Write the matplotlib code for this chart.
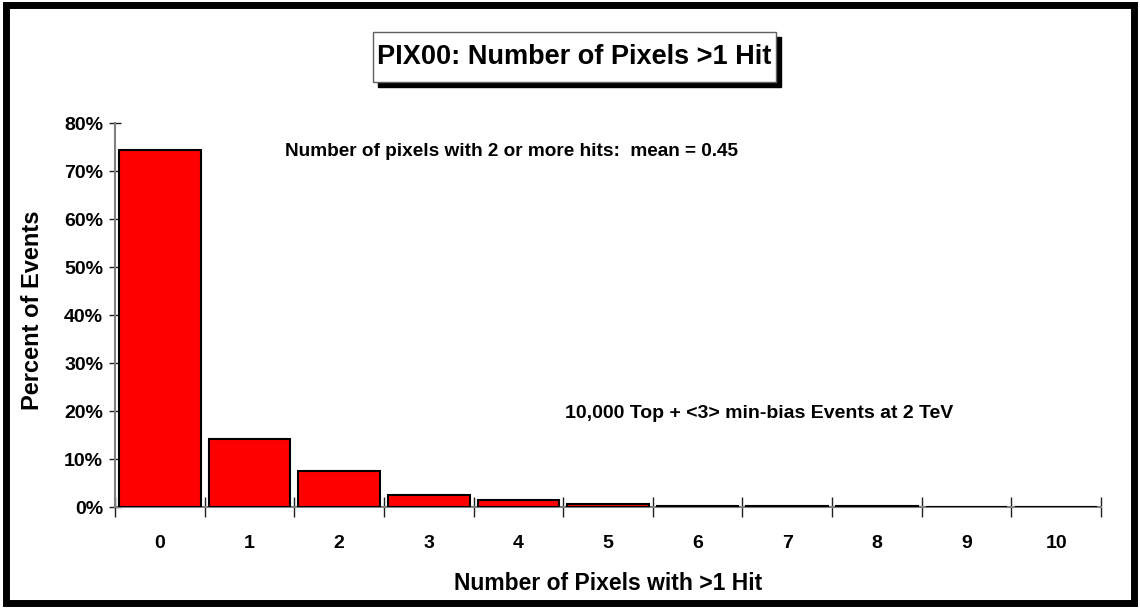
import matplotlib
matplotlib.use("Agg")
import matplotlib.pyplot as plt
from matplotlib.patches import Rectangle

categories = ["0", "1", "2", "3", "4", "5", "6", "7", "8", "9", "10"]
percent = [74.4, 14.1, 7.5, 2.4, 1.5, 0.7, 0.25, 0.2, 0.2, 0.0, 0.0]
yticks = [0, 10, 20, 30, 40, 50, 60, 70, 80]
ytick_labels = ["0%", "10%", "20%", "30%", "40%", "50%", "60%", "70%", "80%"]

plt.rcParams['font.family'] = ['Liberation Sans', 'DejaVu Sans']
plt.rcParams['font.weight'] = 'bold'

fig = plt.figure(figsize=(11.4, 6.08), dpi=100)
W, H = 1140, 608

# outer frame
fig.patches.append(Rectangle((6/W, 5/H), 1 - 12/W, 1 - 10/H, transform=fig.transFigure,
                             fill=False, edgecolor='black', linewidth=5, zorder=10))

ax = fig.add_axes([115/W, 1 - 507/H, (1101 - 115)/W, (507 - 123)/H])
xs = list(range(len(categories)))
ax.bar(xs, percent, width=0.91, color='#ff0000', edgecolor='black', linewidth=1.5, zorder=3)
ax.set_xlim(-0.5, len(categories) - 0.5)
ax.set_ylim(0, 80)
ax.set_yticks(yticks)
ax.set_yticklabels(ytick_labels, fontsize=14, fontweight='bold')
ax.set_xticks(xs)
ax.set_xticklabels(categories, fontsize=14, fontweight='bold')
ax.tick_params(axis='x', length=0, pad=20)
# category boundary ticks
ax.set_xticks([x - 0.5 for x in range(len(categories) + 1)], minor=True)
ax.tick_params(axis='x', which='minor', direction='inout', length=14, width=1, color='#202020')
ax.tick_params(axis='y', direction='inout', length=9, width=1, color='#202020', pad=4)
for s in ['top', 'right']:
    ax.spines[s].set_visible(False)
for s in ['left', 'bottom']:
    ax.spines[s].set_color('#808080')
    ax.spines[s].set_linewidth(1.5)

fig.text(33/W, 1 - 310/H, "Percent of Events", rotation=90, fontsize=17, fontweight='bold',
         ha='center', va='center')
fig.text(608/W, 1 - 583/H, "Number of Pixels with >1 Hit", fontsize=16.5, fontweight='bold',
         ha='center', va='center')

fig.text(285/W, 1 - 151/H, "Number of pixels with 2 or more hits:  mean = 0.45",
         fontsize=13.7, fontweight='bold', va='center', ha='left')
fig.text(565/W, 1 - 413/H, "10,000 Top + <3> min-bias Events at 2 TeV",
         fontsize=14, fontweight='bold', va='center', ha='left')

# title box with shadow
bx0, by0, bx1, by1 = 373, 32, 776, 82
fig.patches.append(Rectangle(((bx0 + 5)/W, 1 - (by1 + 5)/H), (bx1 - bx0)/W, (by1 - by0)/H,
                             transform=fig.transFigure, facecolor='black', edgecolor='black', zorder=5))
fig.patches.append(Rectangle((bx0/W, 1 - by1/H), (bx1 - bx0)/W, (by1 - by0)/H,
                             transform=fig.transFigure, facecolor='white', edgecolor='#606060',
                             linewidth=1, zorder=6))
fig.text((bx0 + bx1)/2/W, 1 - (by0 + by1)/2/H, "PIX00: Number of Pixels >1 Hit",
         fontsize=19.5, fontweight='bold', ha='center', va='center', zorder=7)

fig.savefig("out.png", dpi=100)
